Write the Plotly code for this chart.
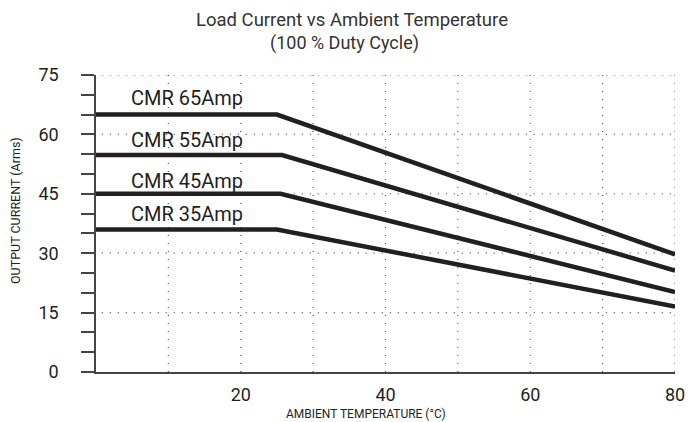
import plotly.graph_objects as go

temps = [0, 25, 80]
series_names = ["CMR 65Amp", "CMR 55Amp", "CMR 45Amp", "CMR 35Amp"]
cmr65 = [65, 65, 29.7]
cmr55 = [54.8, 54.8, 25.6]
cmr45 = [45, 45, 20.2]
cmr35 = [36, 36, 16.5]
break_x = [25, 25.7, 25.5, 25]
series_values = [cmr65, cmr55, cmr45, cmr35]
label_y = [69.2, 58.6, 48.3, 39.9]

x_ticks = [20, 40, 60, 80]
y_ticks = [0, 15, 30, 45, 60, 75]

FONT = "Roboto, Liberation Sans, Arial, sans-serif"
INK = "#231f20"

fig = go.Figure()
for name, vals, bx in zip(series_names, series_values, break_x):
    xs = [temps[0], bx, temps[2]]
    fig.add_trace(go.Scatter(x=xs, y=vals, mode="lines", name=name,
                             line=dict(color=INK, width=4.5), showlegend=False,
                             hoverinfo="skip"))

for name, ly in zip(series_names, label_y):
    fig.add_annotation(x=4.6, y=ly, text=name, showarrow=False, xanchor="left",
                       yanchor="middle", font=dict(family=FONT, size=20, color=INK))

fig.update_layout(
    width=698, height=422,
    margin=dict(l=96, r=23, t=75, b=50),
    paper_bgcolor="white", plot_bgcolor="white",
    font=dict(family=FONT, color=INK),
)

fig.add_annotation(xref="paper", yref="paper", x=(352 - 96) / 579, y=1 + (75 - 20) / 297,
                   xanchor="center", yanchor="middle", showarrow=False,
                   text="Load Current vs Ambient Temperature",
                   font=dict(family=FONT, size=18.5, color="#333333"))
fig.add_annotation(xref="paper", yref="paper", x=(344 - 96) / 579, y=1 + (75 - 43) / 297,
                   xanchor="center", yanchor="middle", showarrow=False,
                   text="(100 % Duty Cycle)",
                   font=dict(family=FONT, size=18, color="#333333"))

fig.update_xaxes(range=[0, 80], tickvals=x_ticks, ticktext=[str(v) for v in x_ticks],
                 showgrid=False, zeroline=False, showline=True,
                 linecolor="#444444", linewidth=1.5, ticks="",
                 ticklabelstandoff=6,
                 tickfont=dict(family=FONT, size=18, color=INK))
fig.update_yaxes(range=[0, 75], tickvals=y_ticks, ticktext=[str(v) for v in y_ticks],
                 showgrid=False, zeroline=False, showline=True,
                 linecolor="#444444", linewidth=1.5,
                 ticks="outside", ticklen=13, tickcolor="#444444", tickwidth=1.5,
                 minor=dict(dtick=5, tick0=0, ticks="outside", ticklen=13,
                            tickcolor="#444444", tickwidth=1.5, showgrid=False),
                 ticklabelstandoff=19,
                 tickfont=dict(family=FONT, size=18, color=INK))

for gx in [10, 20, 30, 40, 50, 60, 70, 80]:
    fig.add_shape(type="line", xref="x", yref="y", x0=gx, x1=gx, y0=0, y1=75,
                  line=dict(color="#555555", width=1.2, dash="1px,7px"), layer="below")
for gy in [15, 30, 45, 60, 75]:
    fig.add_shape(type="line", xref="x", yref="y", x0=0.8, x1=80, y0=gy, y1=gy,
                  line=dict(color="#555555", width=1.2, dash="1px,7px"), layer="below")

fig.add_annotation(xref="paper", yref="paper", x=(366 - 96) / 579, y=-(414 - 372) / 297,
                   xanchor="center", yanchor="middle",
                   text="AMBIENT TEMPERATURE (°C)", showarrow=False,
                   font=dict(family=FONT, size=12, color=INK))
fig.add_annotation(xref="paper", yref="paper", x=-(96 - 15) / 579, y=(372 - 211) / 297,
                   xanchor="center", yanchor="middle", textangle=-90,
                   text="OUTPUT CURRENT (Arms)", showarrow=False,
                   font=dict(family=FONT, size=12.5, color=INK))

fig.write_html("out.html", config={"displayModeBar": False})

with open("out.html", "r", encoding="utf-8") as f:
    html = f.read()
html = html.replace("<head>", "<head><style>html,body{margin:0;padding:0;}</style>", 1)
with open("out.html", "w", encoding="utf-8") as f:
    f.write(html)
